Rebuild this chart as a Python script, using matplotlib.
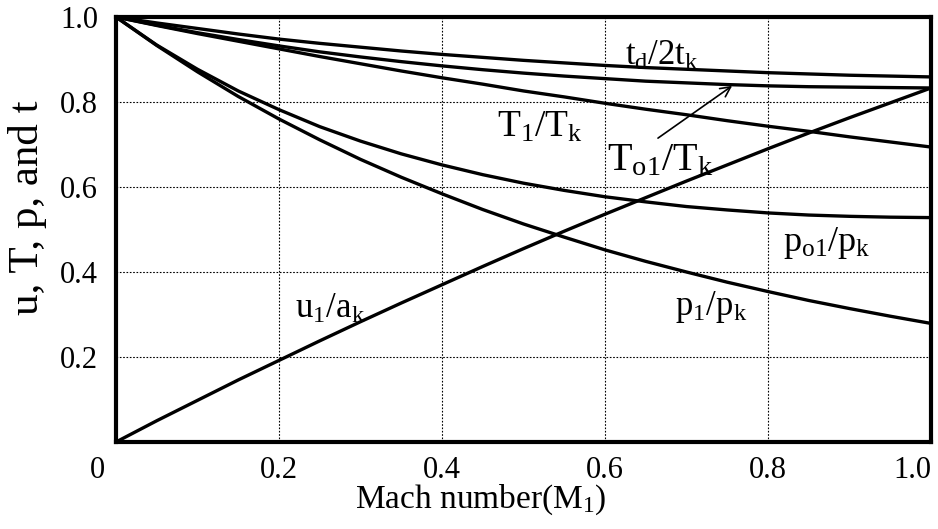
import matplotlib

matplotlib.use("Agg")
import matplotlib.pyplot as plt
from matplotlib.transforms import ScaledTranslation

plt.rcParams["font.family"] = ["Liberation Serif", "DejaVu Serif"]
plt.rcParams["mathtext.fontset"] = "custom"
plt.rcParams["mathtext.rm"] = "Liberation Serif"
plt.rcParams["mathtext.it"] = "Liberation Serif:italic"

# values
mach = [0.0, 0.05, 0.10, 0.15, 0.20, 0.25, 0.30, 0.35, 0.40, 0.45, 0.50,
        0.55, 0.60, 0.65, 0.70, 0.75, 0.80, 0.85, 0.90, 0.95, 1.00]
u1_ak = [0.000, 0.050, 0.098, 0.146, 0.192, 0.238, 0.283, 0.327, 0.370, 0.413, 0.455,
         0.496, 0.536, 0.575, 0.614, 0.652, 0.690, 0.727, 0.763, 0.798, 0.833]
t1_tk = [1.000, 0.980, 0.961, 0.943, 0.925, 0.907, 0.890, 0.873, 0.857, 0.842, 0.826,
         0.812, 0.797, 0.783, 0.770, 0.756, 0.743, 0.731, 0.718, 0.706, 0.694]
to1_tk = [1.000, 0.981, 0.963, 0.947, 0.932, 0.918, 0.906, 0.895, 0.885, 0.876, 0.868,
          0.861, 0.855, 0.849, 0.845, 0.841, 0.838, 0.836, 0.835, 0.834, 0.833]
td_2tk = [1.000, 0.986, 0.973, 0.960, 0.948, 0.938, 0.929, 0.920, 0.912, 0.905, 0.898,
          0.892, 0.886, 0.881, 0.877, 0.873, 0.869, 0.866, 0.863, 0.861, 0.859]
p1_pk = [1.000, 0.933, 0.871, 0.813, 0.760, 0.711, 0.665, 0.623, 0.584, 0.547, 0.513,
         0.482, 0.452, 0.425, 0.400, 0.376, 0.354, 0.333, 0.314, 0.296, 0.279]
po1_pk = [1.000, 0.934, 0.877, 0.826, 0.782, 0.742, 0.708, 0.678, 0.652, 0.629, 0.609,
          0.592, 0.577, 0.565, 0.554, 0.546, 0.539, 0.534, 0.531, 0.529, 0.528]

x_ticks = [0.2, 0.4, 0.6, 0.8, 1.0]
x_tick_labels = ["0.2", "0.4", "0.6", "0.8", "1.0"]
y_ticks = [0.2, 0.4, 0.6, 0.8, 1.0]
y_tick_labels = ["0.2", "0.4", "0.6", "0.8", "1.0"]

fig = plt.figure(figsize=(9.38, 5.29), dpi=100)
ax = fig.add_axes([116 / 938, 1 - 442 / 529, 815 / 938, 425 / 529])

for series in (u1_ak, t1_tk, to1_tk, td_2tk, p1_pk, po1_pk):
    ax.plot(mach, series, color="black", lw=2.4, solid_capstyle="butt")

ax.set_xlim(0, 1)
ax.set_ylim(0, 1)
ax.set_xticks(x_ticks, labels=x_tick_labels)
ax.set_yticks(y_ticks, labels=y_tick_labels)
ax.tick_params(axis="both", length=0, labelsize=22)
ax.tick_params(axis="x", pad=10)
ax.tick_params(axis="y", pad=13)
ax.get_xticklabels()[-1].set_horizontalalignment("right")
ax.grid(True, color="black", linestyle=(0, (1.5, 1.5)), linewidth=0.8)
ax.set_axisbelow(True)
for spine in ax.spines.values():
    spine.set_linewidth(3)

# the shared "0" at the origin sits a little left of the corner
ax.text(0, 0, "0", fontsize=22, ha="center", va="top",
        transform=ax.transAxes + ScaledTranslation(-19 / 100, -10 / 72, fig.dpi_scale_trans))

ax.text(-0.108, 0.55, "u, T, p, and t", fontsize=31, rotation=90,
        ha="center", va="center", transform=ax.transAxes)
ax.text(0.447, -0.155, r"Mach number(M$_\mathrm{1}$)", fontsize=24,
        ha="center", va="baseline", transform=ax.transAxes)

ax.text(0.625, 0.887, r"$\mathrm{t_d/2t_k}$", fontsize=25, va="baseline")
ax.text(0.467, 0.718, r"$\mathrm{T_1/T_k}$", fontsize=27, va="baseline")
ax.text(0.602, 0.640, r"$\mathrm{T_{o1}/T_k}$", fontsize=29, va="baseline")
ax.text(0.818, 0.449, r"$\mathrm{p_{o1}/p_k}$", fontsize=26, va="baseline")
ax.text(0.686, 0.299, r"$\mathrm{p_1/p_k}$", fontsize=25, va="baseline")
ax.text(0.220, 0.292, r"$\mathrm{u_1/a_k}$", fontsize=25, va="baseline")

ax.annotate("", xy=(0.756, 0.838), xytext=(0.665, 0.715),
            arrowprops=dict(arrowstyle="->", color="black", lw=1.2,
                            mutation_scale=18, shrinkA=0, shrinkB=0))

fig.savefig("out.png", dpi=100)
plt.close(fig)
